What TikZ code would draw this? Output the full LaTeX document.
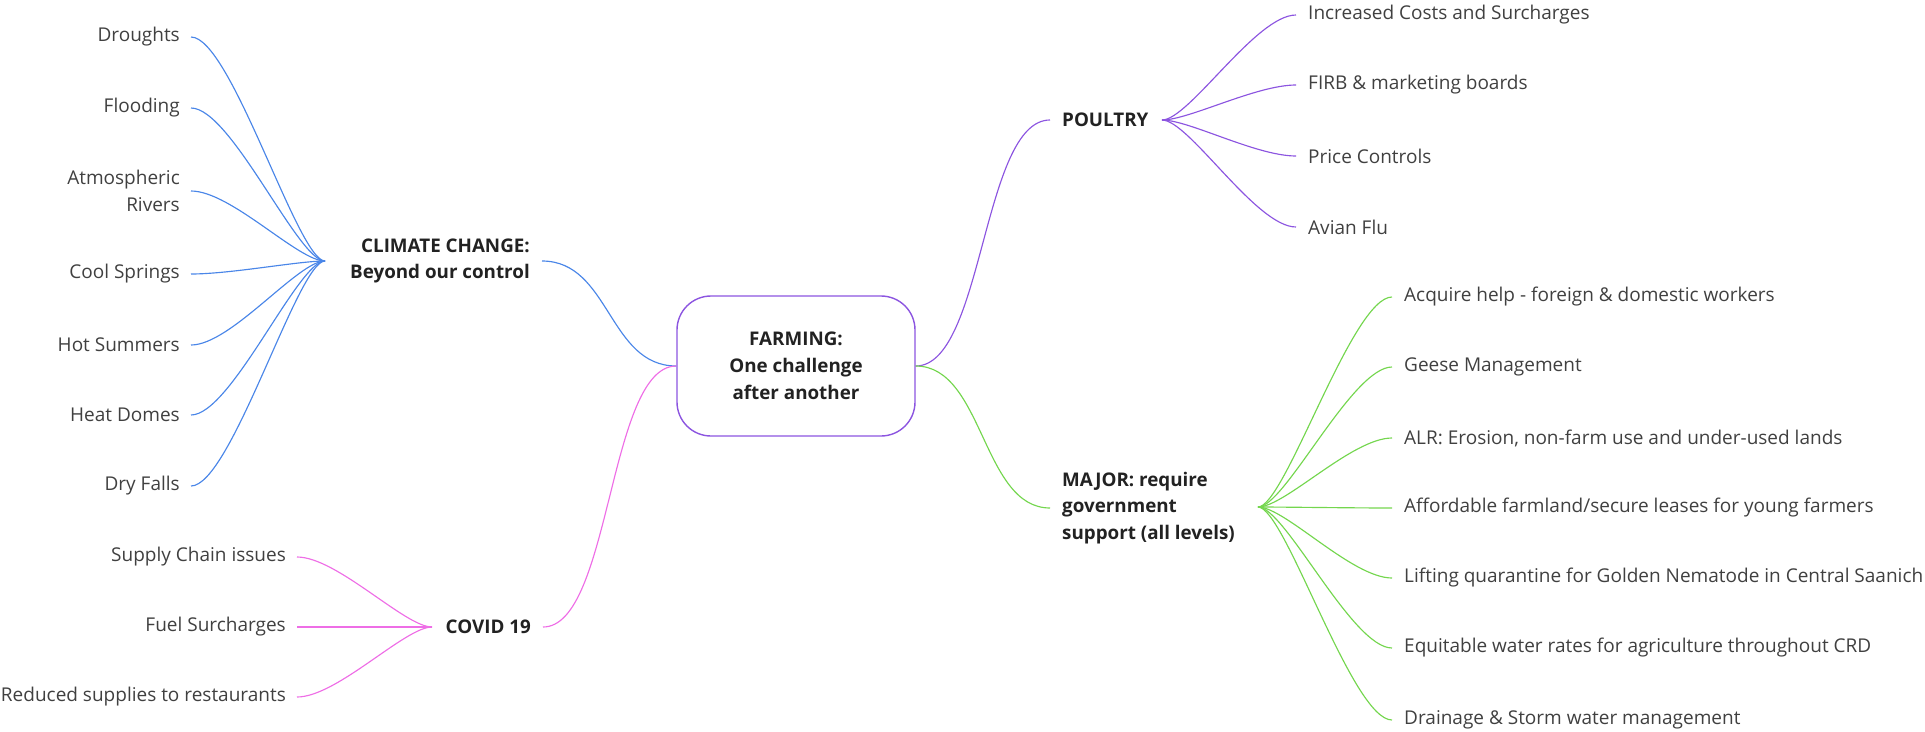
\documentclass[tikz,border=0pt]{standalone}
\usepackage{fontspec}
\setmainfont{Open Sans}
\definecolor{cblue}{HTML}{4A86E8}
\definecolor{cpurple}{HTML}{8C55E0}
\definecolor{cpink}{HTML}{EE6EE6}
\definecolor{cgreen}{HTML}{74D64E}
\definecolor{leaftxt}{HTML}{404040}
\definecolor{headtxt}{HTML}{222222}
\begin{document}
\begin{tikzpicture}[x=1pt,y=-1pt,
  basefont/.style={font=\fontsize{19}{26.5}\selectfont},
  leafL/.style={basefont,anchor=east,inner xsep=11pt,inner ysep=2pt,align=right,text=leaftxt},
  leafR/.style={basefont,anchor=west,inner xsep=12pt,inner ysep=2pt,align=left,text=leaftxt},
  headL/.style={anchor=east,inner xsep=12pt,inner ysep=2pt,align=right,text=headtxt,font=\fontsize{18.8}{26.5}\selectfont\bfseries},
  headR/.style={anchor=west,inner xsep=12pt,inner ysep=2pt,align=left,text=headtxt,font=\fontsize{18.8}{26.5}\selectfont\bfseries},
  link/.style={line width=1.15pt},
  bl/.style={link,draw=cblue},
  pu/.style={link,draw=cpurple},
  pk/.style={link,draw=cpink},
  gr/.style={link,draw=cgreen}
]
\useasboundingbox (0,0) rectangle (1925,731);

% central topic
\node[draw=cpurple,line width=1.4pt,rounded corners=34pt,minimum width=238pt,minimum height=140pt,
      align=center,text=headtxt,font=\fontsize{18.8}{27}\selectfont\bfseries] (farm) at (796,366)
      {FARMING:\\One challenge\\after another};

% main branches
\node[headL] (clim) at (542,261) {CLIMATE CHANGE:\\Beyond our control};
\node[headL] (covid) at (543,627) {COVID 19};
\node[headR] (poul) at (1050,120) {POULTRY};
\node[headR] (major) at (1050,508) {MAJOR: require\\government\\support (all levels)};

% hubs
\coordinate (climhub) at (325,261);
\coordinate (covhub) at (432,627);
\coordinate (poulhub) at (1162,120);
\coordinate (majhub) at (1258,507);

% climate leaves
\node[leafL] (c1) at (191,37) {Droughts};
\node[leafL] (c2) at (191,108) {Flooding};
\node[leafL] (c3) at (191,191) {Atmospheric\\Rivers};
\node[leafL] (c4) at (191,274) {Cool Springs};
\node[leafL] (c5) at (191,345) {Hot Summers};
\node[leafL] (c6) at (191,415) {Heat Domes};
\node[leafL] (c7) at (191,486) {Dry Falls};

% covid leaves
\node[leafL] (v1) at (297,557) {Supply Chain issues};
\node[leafL] (v2) at (297,627) {Fuel Surcharges};
\node[leafL] (v3) at (297,697) {Reduced supplies to restaurants};

% poultry leaves
\node[leafR] (p1) at (1296,15) {Increased Costs and Surcharges};
\node[leafR] (p2) at (1296,85) {FIRB \& marketing boards};
\node[leafR] (p3) at (1296,156) {Price Controls};
\node[leafR] (p4) at (1296,227) {Avian Flu};

% major leaves
\node[leafR] (m1) at (1392,297) {Acquire help - foreign \& domestic workers};
\node[leafR] (m2) at (1392,367) {Geese Management};
\node[leafR] (m3) at (1392,438) {ALR: Erosion, non-farm use and under-used lands};
\node[leafR] (m4) at (1392,508) {Affordable farmland/secure leases for young farmers};
\node[leafR] (m5) at (1392,578) {Lifting quarantine for Golden Nematode in Central Saanich};
\node[leafR] (m6) at (1392,648) {Equitable water rates for agriculture throughout CRD};
\node[leafR] (m7) at (1392,720) {Drainage \& Storm water management};

% main connectors
\draw[bl] (clim.east) .. controls +(68,0) and +(-68,0) .. (farm.west);
\draw[pk] (covid.east) .. controls +(68,0) and +(-68,0) .. (farm.west);
\draw[pu] (farm.east) .. controls +(68,0) and +(-68,0) .. (poul.west);
\draw[gr] (farm.east) .. controls +(68,0) and +(-68,0) .. (major.west);

% leaf connectors
\foreach \n in {c1,c2,c3,c4,c5,c6,c7}
  \draw[bl] (\n.east) .. controls +(40,0) and +(-27,0) .. (climhub);
\foreach \n in {v1,v2,v3}
  \draw[pk] (\n.east) .. controls +(40,0) and +(-27,0) .. (covhub);
\foreach \n in {p1,p2,p3,p4}
  \draw[pu] (\n.west) .. controls +(-40,0) and +(27,0) .. (poulhub);
\foreach \n in {m1,m2,m3,m4,m5,m6,m7}
  \draw[gr] (\n.west) .. controls +(-40,0) and +(27,0) .. (majhub);
\end{tikzpicture}
\end{document}
